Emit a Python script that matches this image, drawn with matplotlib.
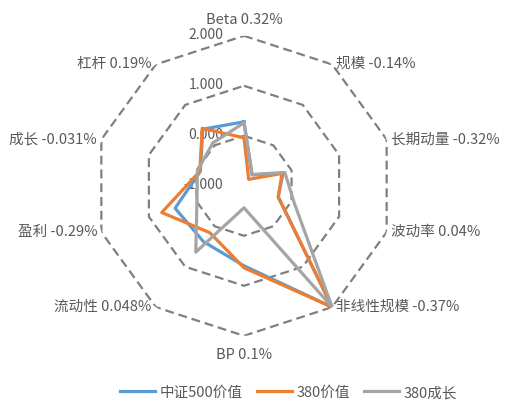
import numpy as np
import matplotlib
matplotlib.use('Agg')
import matplotlib.pyplot as plt

plt.rcParams['font.family'] = ['Noto Sans CJK SC', 'DejaVu Sans']

# 因子名称与收益
categories = ['Beta 0.32%', '规模 -0.14%', '长期动量 -0.32%', '波动率 0.04%', '非线性规模 -0.37%',
              'BP 0.1%', '流动性 0.048%', '盈利 -0.29%', '成长 -0.031%', '杠杆 0.19%']

# 各组合的因子暴露
zz500_value = [0.28, -0.73, -0.18, -0.28, 2.00, 0.60, 0.38, 0.45, -0.08, 0.40]
v380_value = [-0.04, -0.84, -0.20, -0.28, 2.00, 0.64, 0.16, 0.73, -0.07, 0.42]
g380_growth = [0.26, -0.72, -0.14, 0.05, 2.00, -0.56, 0.64, -0.01, -0.02, 0.06]

series_names = ['中证500价值', '380价值', '380成长']
series_colors = ['#5B9BD5', '#ED7D31', '#A5A5A5']

ring_values = [0, 1, 2]
tick_labels = ['2.000', '1.000', '0.000', '-1.000']
tick_values = [2, 1, 0, -1]

text_color = '#595959'
grid_color = '#7F7F7F'

n = len(categories)
angles = np.arange(n) * 2 * np.pi / n
closed = np.append(angles, angles[0])

fig = plt.figure(figsize=(5.07, 4.14), dpi=100)
ax = fig.add_axes([0.1854, 0.1865, 0.5917, 0.7246], projection='polar')
ax.set_theta_zero_location('N')
ax.set_theta_direction(-1)
ax.set_ylim(-1, 2)
ax.grid(False)
ax.set_xticks([])
ax.set_yticks([])
ax.spines['polar'].set_visible(False)
ax.patch.set_visible(False)

# 虚线网格(十边形)
for v in ring_values:
    ax.plot(closed, [v] * (n + 1), color=grid_color, lw=1.6, ls=(0, (4, 2.2)), zorder=1)

# 数据系列
for vals, name, col in zip([zz500_value, v380_value, g380_growth], series_names, series_colors):
    ax.plot(closed, vals + vals[:1], color=col, lw=2.3, label=name, zorder=3)

# 刻度标签
for v, lab in zip(tick_values, tick_labels):
    ax.annotate(lab, xy=(0, v), xytext=(-15, 1), textcoords='offset points',
                ha='right', va='center', fontsize=10, color=text_color, zorder=2)

# 类别标签
for ang, lab in zip(angles, categories):
    s, c = np.sin(ang), np.cos(ang)
    if abs(s) < 1e-6:
        ha = 'center'
        va = 'bottom' if c > 0 else 'top'
        off = (0, 7) if c > 0 else (0, -8)
    else:
        ha = 'left' if s > 0 else 'right'
        va = 'center'
        off = (3, 1) if s > 0 else (-3, 1)
    ax.annotate(lab, xy=(ang, 2), xytext=off, textcoords='offset points',
                ha=ha, va=va, fontsize=10.5, color=text_color)

leg = fig.legend(loc='lower center', ncol=3, frameon=False, bbox_to_anchor=(0.569, 0.002),
                 fontsize=10.5, handlelength=2.4, columnspacing=1.0, handletextpad=0.3)
for t in leg.get_texts():
    t.set_color(text_color)

fig.savefig('out.png', dpi=100)
